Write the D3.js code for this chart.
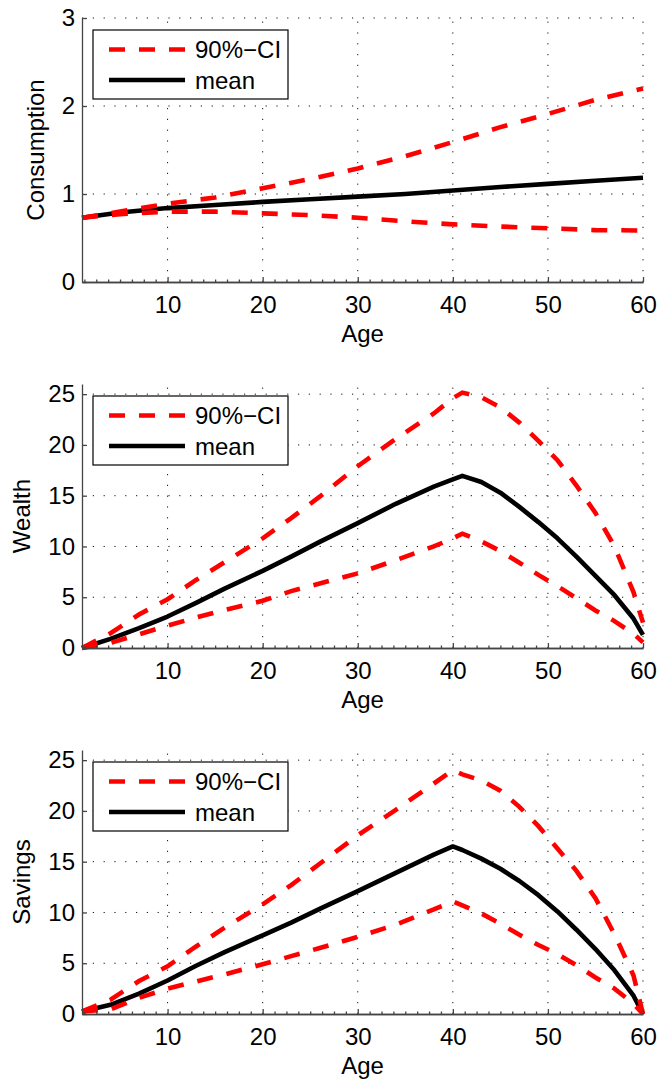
<!DOCTYPE html>
<html>
<head>
<meta charset="utf-8">
<script src="https://cdn.jsdelivr.net/npm/d3@7"></script>
<style>
body { margin: 0; background: #fff; }
svg { display: block; font-family: "Liberation Sans", Arial, sans-serif; }
</style>
</head>
<body>
<svg></svg>
<script>

// consumption panel
var consAge  = [1, 5, 10, 15, 20, 25, 30, 35, 40, 45, 50, 55, 60];
var consMean = [0.73, 0.79, 0.84, 0.875, 0.91, 0.94, 0.97, 1.0, 1.04, 1.08, 1.115, 1.15, 1.185];
var consHi   = [0.73, 0.80, 0.89, 0.96, 1.065, 1.17, 1.29, 1.43, 1.59, 1.76, 1.91, 2.07, 2.2];
var consLo   = [0.73, 0.77, 0.80, 0.80, 0.78, 0.76, 0.73, 0.69, 0.655, 0.63, 0.61, 0.59, 0.585];

// wealth + savings panels share the age grid
var lifeAge    = [1, 4, 7, 10, 13, 16, 20, 23, 26, 30, 34, 38, 40, 41, 43, 45, 47, 49, 51, 53, 55, 57, 59, 60];
var wealthMean = [0, 0.9, 1.95, 3.1, 4.45, 5.85, 7.6, 9.0, 10.45, 12.3, 14.2, 15.9, 16.6, 16.95, 16.35, 15.3, 13.9, 12.4, 10.8, 9.0, 7.1, 5.2, 2.9, 1.3];
var wealthHi   = [0, 1.45, 3.3, 4.8, 6.7, 8.45, 10.8, 12.8, 14.9, 17.9, 20.6, 23.1, 24.6, 25.15, 24.7, 23.7, 22.2, 20.4, 18.5, 16.0, 13.3, 10.0, 5.5, 2.5];
var wealthLo   = [0, 0.5, 1.35, 2.2, 3.0, 3.75, 4.65, 5.6, 6.35, 7.35, 8.65, 10.0, 10.8, 11.26, 10.5, 9.55, 8.4, 7.2, 6.1, 4.9, 3.7, 2.65, 1.4, 0.55];
var savMean    = [0.25, 0.9, 2.0, 3.3, 4.75, 6.1, 7.75, 9.0, 10.35, 12.1, 13.9, 15.7, 16.5, 16.15, 15.3, 14.3, 13.1, 11.7, 10.1, 8.3, 6.4, 4.3, 1.8, 0];
var savHi      = [0.25, 1.4, 3.25, 4.7, 6.65, 8.5, 10.8, 12.7, 14.8, 17.6, 20.1, 22.7, 24.0, 23.6, 23.0, 22.0, 20.4, 18.5, 16.3, 14.1, 11.4, 7.85, 3.8, 0];
var savLo      = [0.25, 0.45, 1.6, 2.5, 3.2, 3.9, 4.9, 5.7, 6.5, 7.6, 8.8, 10.3, 11.1, 10.7, 9.9, 8.9, 7.8, 6.8, 5.9, 4.8, 3.6, 2.5, 1.0, 0];

var xTicks = [10, 20, 30, 40, 50, 60];
var consTicks = [0, 1, 2, 3];
var stockTicks = [0, 5, 10, 15, 20, 25];
var legendLabels = ['90%\u2212CI', 'mean'];

var W = 659, H = 1082;
var left = 82, right = 643, ph = 264;

var svg = d3.select('svg')
    .attr('width', W)
    .attr('height', H)

var x = d3.scaleLinear().domain([1, 60]).range([left, right]);

var panels = [
    {top: 18,  ymax: 3,  ticks: consTicks,  label: 'Consumption', labelX: 44, age: consAge, mean: consMean, hi: consHi, lo: consLo},
    {top: 384, ymax: 26, ticks: stockTicks, label: 'Wealth',      labelX: 30, age: lifeAge, mean: wealthMean, hi: wealthHi, lo: wealthLo},
    {top: 750, ymax: 26, ticks: stockTicks, label: 'Savings',     labelX: 30, age: lifeAge, mean: savMean, hi: savHi, lo: savLo}
];

panels.forEach(drawPanel);

function drawPanel(p) {
    var bottom = p.top + ph;
    var y = d3.scaleLinear().domain([0, p.ymax]).range([bottom, p.top]);
    var g = svg.append('g');

    // dotted grid
    var grid = g.append('g')
        .attr('stroke', '#111')
        .attr('stroke-width', 1)
        .attr('stroke-dasharray', '1.2,9.6')
    grid.selectAll('.gx').data(xTicks).enter().append('line')
        .attr('x1', d => x(d)).attr('x2', d => x(d))
        .attr('y1', bottom).attr('y2', p.top)
    grid.selectAll('.gy').data(p.ticks.filter(d => d > 0)).enter().append('line')
        .attr('x1', left).attr('x2', right)
        .attr('y1', d => y(d)).attr('y2', d => y(d))

    // curves
    var line = d3.line().x((d, i) => x(p.age[i])).y(d => y(d));
    g.append('path').datum(p.mean)
        .attr('d', line)
        .attr('fill', 'none')
        .attr('stroke', '#000')
        .attr('stroke-width', 4.6)
        .attr('stroke-linejoin', 'round')
    g.selectAll('.ci').data([p.hi, p.lo]).enter().append('path')
        .attr('d', line)
        .attr('fill', 'none')
        .attr('stroke', '#ff0000')
        .attr('stroke-width', 4.6)
        .attr('stroke-dasharray', '16,14')

    // axes
    var minor = d3.range(0, 60.01, 1.25).filter(d => d >= 1 && d % 10 != 0);
    g.append('g')
        .attr('transform', 'translate(0,' + bottom + ')')
        .call(d3.axisBottom(x).tickValues(minor).tickFormat('').tickSizeInner(-2.5).tickSizeOuter(0))
    g.append('g')
        .attr('transform', 'translate(0,' + bottom + ')')
        .call(d3.axisBottom(x).tickValues(xTicks).tickSizeInner(-5).tickSizeOuter(0).tickPadding(14))
    g.append('g')
        .attr('transform', 'translate(' + left + ',0)')
        .call(d3.axisLeft(y).tickValues(p.ticks).tickFormat(d3.format('d')).tickSizeInner(-5).tickSizeOuter(0).tickPadding(7))
    g.selectAll('.domain, .tick line')
        .attr('stroke', '#444')
        .attr('stroke-width', 1.3)
    g.selectAll('.tick text')
        .attr('fill', '#000')
        .style('font-size', '24px')
        .style('font-family', '"Liberation Sans", Arial, sans-serif')

    g.append('text')
        .attr('x', (left + right) / 2)
        .attr('y', bottom + 60)
        .attr('text-anchor', 'middle')
        .style('font-size', '24px')
        .text('Age')
    g.append('text')
        .attr('transform', 'translate(' + p.labelX + ',' + (p.top + ph / 2) + ') rotate(-90)')
        .attr('text-anchor', 'middle')
        .style('font-size', '24px')
        .text(p.label)

    // legend
    var lx = left + 11, ly = p.top + 12;
    var lg = g.append('g').attr('transform', 'translate(' + lx + ',' + ly + ')');
    lg.append('rect')
        .attr('width', 195).attr('height', 69)
        .attr('fill', '#fff')
        .attr('stroke', '#000')
        .attr('stroke-width', 1.2)
    var rows = lg.selectAll('.row').data(legendLabels).enter().append('g')
        .attr('transform', (d, i) => 'translate(0,' + (19.5 + i * 30.5) + ')')
    rows.append('line')
        .attr('x1', 16).attr('x2', 92)
        .attr('stroke', (d, i) => i == 0 ? '#ff0000' : '#000')
        .attr('stroke-width', 4.6)
        .attr('stroke-dasharray', (d, i) => i == 0 ? '16,14' : null)
    rows.append('text')
        .attr('x', 102).attr('y', 8.5)
        .style('font-size', '24px')
        .text(d => d)
}

</script>
</body>
</html>
